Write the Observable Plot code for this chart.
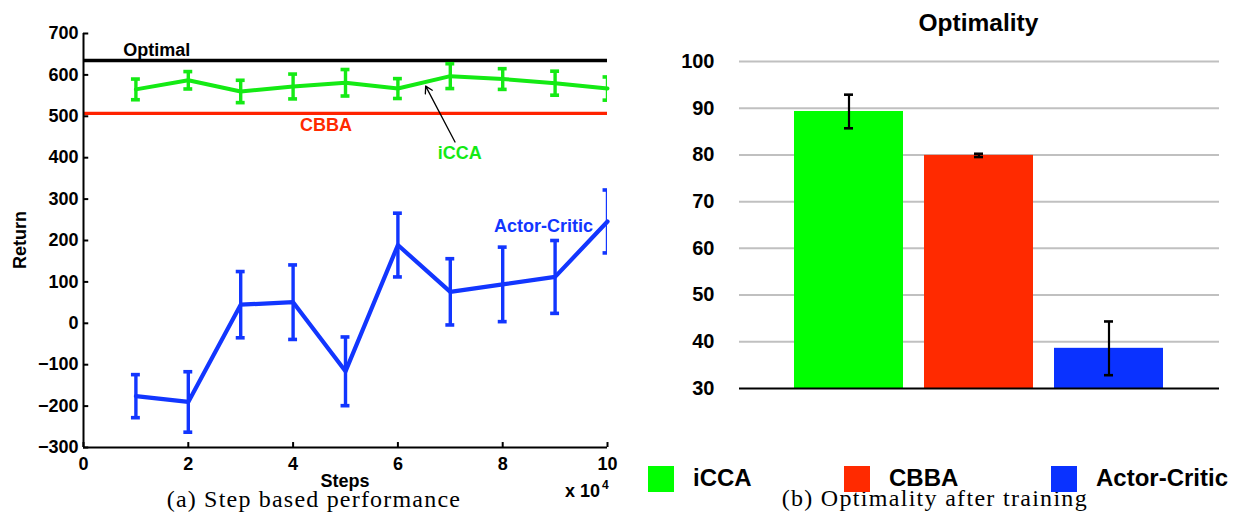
<!DOCTYPE html>
<html><head><meta charset="utf-8">
<script src="https://cdn.jsdelivr.net/npm/d3@7"></script>
<script src="https://cdn.jsdelivr.net/npm/@observablehq/plot@0.6"></script>
<style>
body{margin:0;background:#fff;}
#root{position:relative;width:1238px;height:512px;overflow:hidden;background:#fff;font-family:"Liberation Sans",Arial,sans-serif;}
.abs{position:absolute;white-space:nowrap;line-height:0.75;}
#root svg{position:absolute;}
#root svg text{font-weight:bold;}
</style></head><body><div id="root"></div>
<script>
// ---------- data: left panel (a) ----------
const steps = [1, 2, 3, 4, 5, 6, 7, 8, 9, 10];
const iccaMean = [565, 587, 560, 572, 581, 567, 597, 590, 580, 567];
const iccaErr  = [25, 21, 27, 30, 32, 24, 30, 25, 29, 28];
const acMean   = [-176, -190, 45, 51, -116, 189, 76, 94, 112, 246];
const acErr    = [52, 73, 80, 90, 83, 77, 80, 90, 88, 76];
const optimalReturn = 635;
const cbbaReturn = 507;
const xTicks = [0, 2, 4, 6, 8, 10];
const yTicks = [-300, -200, -100, 0, 100, 200, 300, 400, 500, 600, 700];
const annotationText = ["Optimal", "CBBA", "iCCA", "Actor-Critic"];
const annotationX = [1.4, 4.63, 7.18, 8.78];
const annotationY = [659, 479, 411, 234];
const arrowFrom = [7.09, 438];
const arrowTo = [6.53, 573];

// ---------- data: right panel (b) ----------
const methods = ["iCCA", "CBBA", "Actor-Critic"];
const optimality = [89.3, 79.9, 38.6];
const optimalityErr = [3.6, 0.35, 5.75];
const optTicks = [30, 40, 50, 60, 70, 80, 90, 100];

// ---------- colours ----------
const lineGreen = "#14ea14", lineBlue = "#1236ff", lineRed = "#ff2200";
const barColors = ["#00ff00", "#ff2a00", "#0a32ff"];
const annotationColor = ["#000000", "#ff2a00", "#14ea14", "#1236ff"];

const root = document.getElementById("root");
const FONT = '"Liberation Sans", Arial, sans-serif';
const SERIF = '"Liberation Serif", "Times New Roman", serif';
const LH = 0.75;

// ---------- left plot ----------
const icca = steps.map((s, i) => ({step: s, mean: iccaMean[i], lo: iccaMean[i] - iccaErr[i], hi: iccaMean[i] + iccaErr[i]}));
const ac = steps.map((s, i) => ({step: s, mean: acMean[i], lo: acMean[i] - acErr[i], hi: acMean[i] + acErr[i]}));
const annotations = annotationText.map((t, i) => ({text: t, x: annotationX[i], y: annotationY[i], color: annotationColor[i]}));
const capHalf = 0.085;
function errMarks(data, color) {
  return [
    Plot.ruleX(data, {x: "step", y1: "lo", y2: "hi", stroke: color, strokeWidth: 3.4, clip: true}),
    Plot.ruleY(data, {y: "hi", x1: d => d.step - capHalf, x2: d => d.step + capHalf, stroke: color, strokeWidth: 3.6, clip: true}),
    Plot.ruleY(data, {y: "lo", x1: d => d.step - capHalf, x2: d => d.step + capHalf, stroke: color, strokeWidth: 3.6, clip: true})
  ];
}
const left = Plot.plot({
  width: 640, height: 470,
  marginLeft: 83, marginRight: 33, marginTop: 33, marginBottom: 23,
  style: {fontFamily: FONT, fontSize: "18px", fontWeight: "bold", color: "#000", background: "transparent", overflow: "visible"},
  x: {domain: [0, 10], ticks: xTicks},
  y: {domain: [-300, 700], ticks: yTicks},
  marks: [
    Plot.ruleY([optimalReturn], {stroke: "#000", strokeWidth: 3.5}),
    Plot.ruleY([cbbaReturn], {stroke: lineRed, strokeWidth: 3.3}),
    Plot.line(icca, {x: "step", y: "mean", stroke: lineGreen, strokeWidth: 4}),
    ...errMarks(icca, lineGreen),
    Plot.line(ac, {x: "step", y: "mean", stroke: lineBlue, strokeWidth: 4.2}),
    ...errMarks(ac, lineBlue),
    Plot.ruleX([0], {stroke: "#000", strokeWidth: 2}),
    Plot.ruleY([-300], {stroke: "#000", strokeWidth: 2}),
    Plot.ruleY(yTicks, {x1: 0, x2: 0.1, stroke: "#000", strokeWidth: 2}),
    Plot.ruleX(xTicks, {y1: -300, y2: -288, stroke: "#000", strokeWidth: 2}),
    Plot.axisX({ticks: xTicks, tickSize: 0, tickPadding: 10, label: null, fontWeight: "bold"}),
    Plot.axisY({ticks: yTicks, tickSize: 0, tickPadding: 5, label: null, fontWeight: "bold"}),
    Plot.arrow([0], {x1: arrowFrom[0], y1: arrowFrom[1], x2: arrowTo[0], y2: arrowTo[1], stroke: "#000", strokeWidth: 1.3, headLength: 9}),
    Plot.text(annotations, {x: "x", y: "y", text: "text", fill: "color", fontSize: 18, fontWeight: "bold"})
  ]
});
left.style.left = "0px"; left.style.top = "0px";
root.appendChild(left);

// ---------- right plot ----------
const opt = methods.map((m, i) => ({method: m, value: optimality[i], lo: optimality[i] - optimalityErr[i], hi: optimality[i] + optimalityErr[i]}));
const right = Plot.plot({
  width: 598, height: 400,
  marginLeft: 99, marginRight: 19, marginTop: 61, marginBottom: 12,
  style: {fontFamily: FONT, fontSize: "20px", fontWeight: "bold", color: "#000", background: "transparent", overflow: "visible"},
  x: {domain: methods, paddingInner: 0.16, paddingOuter: 0.42, axis: null},
  y: {domain: [30, 100], ticks: optTicks},
  color: {domain: methods, range: barColors},
  marks: [
    Plot.ruleY(optTicks.filter(t => t > 30), {stroke: "#c0c0c0", strokeWidth: 2}),
    Plot.barY(opt, {x: "method", y1: 30, y2: "value", fill: "method"}),
    Plot.ruleY([30], {stroke: "#000", strokeWidth: 2}),
    Plot.ruleX(opt, {x: "method", y1: "lo", y2: "hi", stroke: "#000", strokeWidth: 2.2}),
    Plot.tickY(opt, {x: "method", y: "hi", stroke: "#000", strokeWidth: 2.6, inset: 50}),
    Plot.tickY(opt, {x: "method", y: "lo", stroke: "#000", strokeWidth: 2.6, inset: 50}),
    Plot.axisY({ticks: optTicks, tickSize: 0, tickPadding: 25, label: null, fontWeight: "bold"})
  ]
});
right.style.left = "640px"; right.style.top = "0px";
root.appendChild(right);

// ---------- html text ----------
function addText(txt, o) {
  const d = document.createElement("div");
  d.className = "abs";
  d.textContent = txt;
  const size = o.size;
  const fam = o.family || FONT;
  // baseline offset from top of a line box of height LH em
  const asc = fam === SERIF ? (LH - 1.107) / 2 + 0.891 : (LH - 1.117) / 2 + 0.905;
  d.style.fontFamily = fam;
  d.style.fontSize = size + "px";
  d.style.fontWeight = o.weight || "normal";
  d.style.color = o.color || "#000";
  if (o.ls) d.style.letterSpacing = o.ls + "px";
  d.style.left = o.x + "px";
  d.style.top = (o.baseline - asc * size) + "px";
  let tf = "";
  if (o.anchor === "middle") tf = "translateX(-50%)";
  else if (o.anchor === "end") tf = "translateX(-100%)";
  if (o.rotate) { tf = "translate(-50%,-50%) rotate(-90deg)"; d.style.top = o.cy + "px"; }
  d.style.transform = tf;
  root.appendChild(d);
  return d;
}
addText("Return", {x: 20.5, cy: 240, size: 18, weight: "bold", rotate: true});
addText("Steps", {x: 345, baseline: 487.7, size: 18, weight: "bold", anchor: "middle"});
addText("x 10", {x: 565, baseline: 498, size: 18, weight: "bold"});
addText("4", {x: 602, baseline: 490, size: 12, weight: "bold"});
addText("Optimality", {x: 978.4, baseline: 31.5, size: 24.5, weight: "bold", anchor: "middle"});
addText("(a) Step based performance", {x: 166.7, baseline: 507, size: 24, family: SERIF, ls: 1.2});
addText("(b) Optimality after training", {x: 781.7, baseline: 506, size: 24, family: SERIF, ls: 1.3});

// legend
const legendX = [648, 844, 1051];
methods.forEach((m, i) => {
  const sq = document.createElement("div");
  sq.className = "abs";
  sq.style.left = legendX[i] + "px"; sq.style.top = "466px";
  sq.style.width = "26px"; sq.style.height = "26px";
  sq.style.background = barColors[i];
  root.appendChild(sq);
  addText(m, {x: legendX[i] + 45, baseline: 486.7, size: 24, weight: "bold"});
});
</script></body></html>
